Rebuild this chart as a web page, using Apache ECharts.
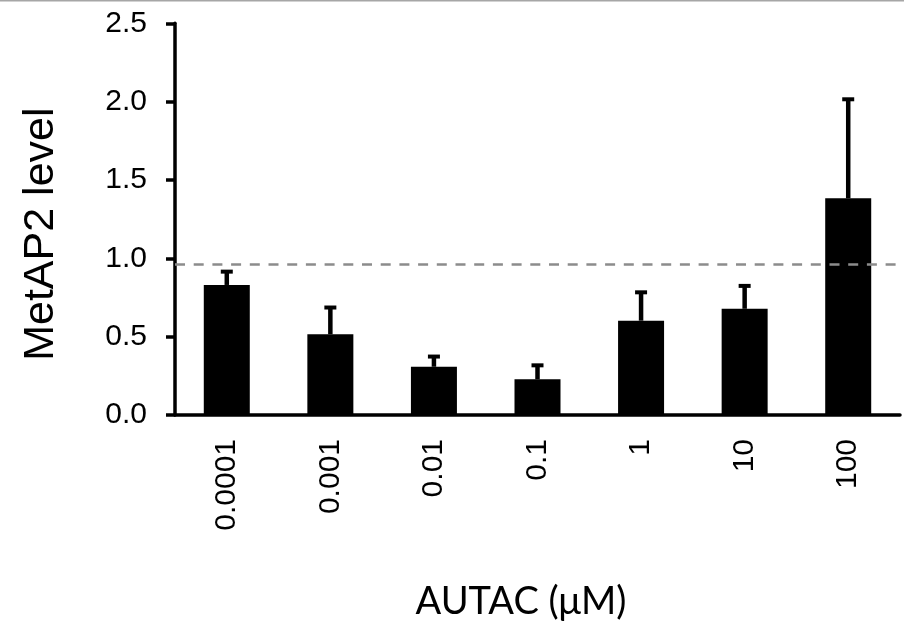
<!DOCTYPE html>
<html>
<head>
<meta charset="utf-8">
<script src="https://cdn.jsdelivr.net/npm/echarts@6/dist/echarts.min.js"></script>
<style>
html,body{margin:0;padding:0;background:#fff;}
#chart{width:904px;height:629px;}
</style>
</head>
<body>
<div id="chart"></div>
<script>
const categories = ['0.0001', '0.001', '0.01', '0.1', '1', '10', '100'];
const means = [0.830, 0.515, 0.308, 0.228, 0.602, 0.678, 1.383];
const errTops = [0.915, 0.686, 0.373, 0.317, 0.783, 0.824, 2.015];
const referenceLevel = 0.965;
const yTicks = { min: 0, max: 2.5, interval: 0.5 };
const xTitle = 'AUTAC (μM)';
const yTitle = 'MetAP2 level';

const errData = categories.map((c, i) => [i, means[i], errTops[i]]);

const chart = echarts.init(document.getElementById('chart'), null, { renderer: 'canvas' });
chart.setOption({
  animation: false,
  backgroundColor: '#ffffff',
  graphic: [{
    type: 'rect', left: 0, top: 0,
    shape: { width: 904, height: 1.5 },
    style: { fill: '#a6a6a6' }
  }],
  grid: { left: 175, right: 4, top: 23.3, bottom: 214, containLabel: false },
  xAxis: {
    type: 'category',
    data: categories,
    axisLine: { lineStyle: { color: '#000', width: 3.5 } },
    axisTick: { show: false },
    axisLabel: {
      rotate: 90, margin: 24, color: '#000',
      fontFamily: 'Liberation Sans, Arial', fontSize: 30
    },
    name: xTitle,
    nameLocation: 'middle',
    nameGap: 168,
    nameTextStyle: {
      fontFamily: 'Lato', fontSize: 38, color: '#000',
      padding: [0, 33, 0, 0]
    }
  },
  yAxis: {
    type: 'value',
    min: yTicks.min, max: yTicks.max, interval: yTicks.interval,
    splitLine: { show: false },
    axisLine: { show: true, lineStyle: { color: '#000', width: 3.5 } },
    axisTick: { show: true, inside: false, length: 9, lineStyle: { color: '#000', width: 3.5 } },
    axisLabel: {
      margin: 28, color: '#000',
      fontFamily: 'Liberation Sans, Arial', fontSize: 30,
      formatter: v => v.toFixed(1)
    },
    name: yTitle,
    nameLocation: 'middle',
    nameRotate: 90,
    nameGap: 112,
    nameTextStyle: {
      fontFamily: 'Liberation Sans, Arial', fontSize: 43, color: '#000',
      padding: [0, 30, 0, 0]
    }
  },
  series: [
    {
      type: 'bar',
      data: means,
      barWidth: 46,
      itemStyle: { color: '#000' },
      markLine: {
        silent: true,
        symbol: 'none',
        label: { show: false },
        lineStyle: { color: '#8c8c8c', width: 2.5, type: [10, 8.7] },
        data: [{ yAxis: referenceLevel }]
      }
    },
    {
      type: 'custom',
      data: errData,
      encode: { x: 0, y: [1, 2] },
      z: 3,
      renderItem: function (params, api) {
        const x = api.value(0);
        const lo = api.coord([x, api.value(1)]);
        const hi = api.coord([x, api.value(2)]);
        const capHalf = 6;
        return {
          type: 'group',
          children: [
            { type: 'line', shape: { x1: lo[0], y1: lo[1], x2: hi[0], y2: hi[1] },
              style: { stroke: '#000', lineWidth: 4.5 } },
            { type: 'line', shape: { x1: hi[0] - capHalf, y1: hi[1], x2: hi[0] + capHalf, y2: hi[1] },
              style: { stroke: '#000', lineWidth: 4 } }
          ]
        };
      }
    }
  ]
});
</script>
</body>
</html>
